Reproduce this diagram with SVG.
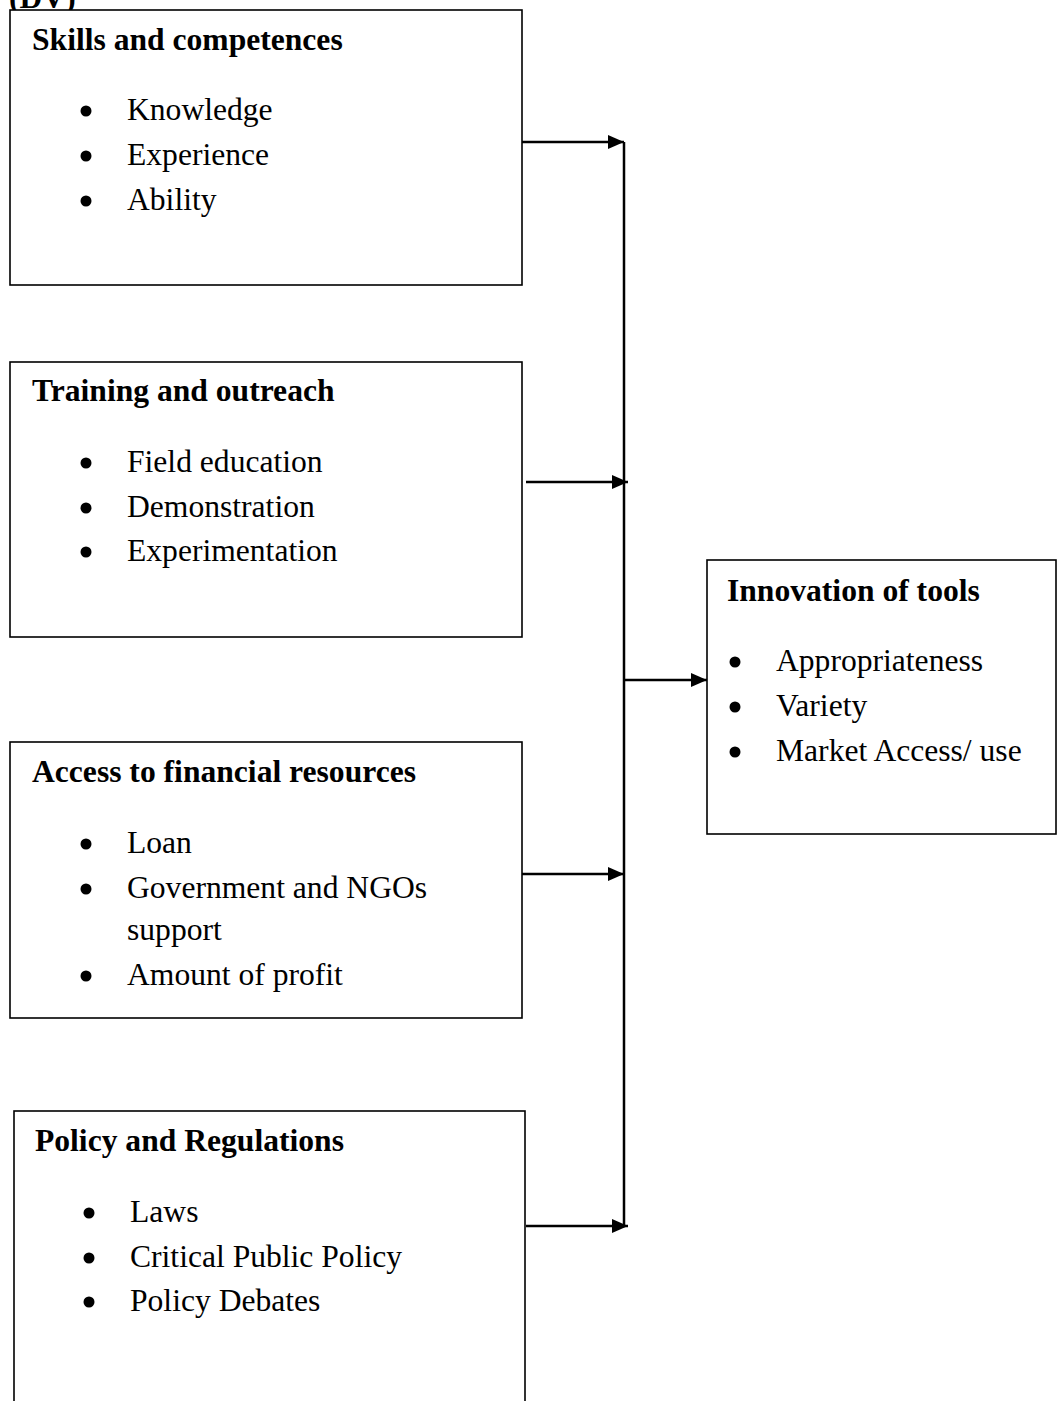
<svg xmlns="http://www.w3.org/2000/svg" width="1057" height="1401" viewBox="0 0 1057 1401">
<style>
.box{fill:#fff;stroke:#000;stroke-width:1.6}
.t{font-family:"Liberation Serif","Times New Roman",serif;font-size:31.6px;fill:#000}
.b{font-weight:bold}
.line{stroke:#000;stroke-width:2.5;fill:none}
.dot{fill:#000}
</style>
<defs>
<marker id="ah" markerWidth="16" markerHeight="14" refX="16" refY="7" orient="auto" markerUnits="userSpaceOnUse">
<path d="M0,0 L16,7 L0,14 z" fill="#000"/>
</marker>
</defs>
<rect width="1057" height="1401" fill="#fff"/>
<text class="t b" x="9" y="8">(DV)</text>
<g id="skills">
<rect class="box" x="10" y="10" width="512" height="275"/>
<text class="t b" x="32" y="50">Skills and competences</text>
<circle class="dot" cx="86" cy="111" r="5.5"/><text class="t" x="127" y="120">Knowledge</text>
<circle class="dot" cx="86" cy="156" r="5.5"/><text class="t" x="127" y="165">Experience</text>
<circle class="dot" cx="86" cy="201" r="5.5"/><text class="t" x="127" y="210">Ability</text>
</g>
<g id="training">
<rect class="box" x="10" y="362" width="512" height="275"/>
<text class="t b" x="32" y="401">Training and outreach</text>
<circle class="dot" cx="86" cy="463" r="5.5"/><text class="t" x="127" y="472">Field education</text>
<circle class="dot" cx="86" cy="508" r="5.5"/><text class="t" x="127" y="517">Demonstration</text>
<circle class="dot" cx="86" cy="552" r="5.5"/><text class="t" x="127" y="561">Experimentation</text>
</g>
<g id="finance">
<rect class="box" x="10" y="742" width="512" height="276"/>
<text class="t b" x="32" y="782">Access to financial resources</text>
<circle class="dot" cx="86" cy="844" r="5.5"/><text class="t" x="127" y="853">Loan</text>
<circle class="dot" cx="86" cy="889" r="5.5"/><text class="t" x="127" y="898">Government and NGOs</text>
<text class="t" x="127" y="940">support</text>
<circle class="dot" cx="86" cy="976" r="5.5"/><text class="t" x="127" y="985">Amount of profit</text>
</g>
<g id="policy">
<rect class="box" x="14" y="1111" width="511" height="310"/>
<text class="t b" x="35" y="1151">Policy and Regulations</text>
<circle class="dot" cx="89" cy="1213" r="5.5"/><text class="t" x="130" y="1222">Laws</text>
<circle class="dot" cx="89" cy="1258" r="5.5"/><text class="t" x="130" y="1267">Critical Public Policy</text>
<circle class="dot" cx="89" cy="1302" r="5.5"/><text class="t" x="130" y="1311">Policy Debates</text>
</g>
<g id="innovation">
<rect class="box" x="707" y="560" width="349" height="274"/>
<text class="t b" x="727" y="601">Innovation of tools</text>
<circle class="dot" cx="735" cy="662" r="5.5"/><text class="t" x="776" y="671">Appropriateness</text>
<circle class="dot" cx="735" cy="707" r="5.5"/><text class="t" x="776" y="716">Variety</text>
<circle class="dot" cx="735" cy="752" r="5.5"/><text class="t" x="776" y="761">Market Access/ use</text>
</g>
<g id="connectors">
<line class="line" x1="624" y1="142" x2="624" y2="1226"/>
<line class="line" x1="522" y1="142" x2="624" y2="142" marker-end="url(#ah)"/>
<line class="line" x1="526" y1="482" x2="628" y2="482" marker-end="url(#ah)"/>
<line class="line" x1="522" y1="874" x2="624" y2="874" marker-end="url(#ah)"/>
<line class="line" x1="526" y1="1226" x2="628" y2="1226" marker-end="url(#ah)"/>
<line class="line" x1="624" y1="680" x2="707" y2="680" marker-end="url(#ah)"/>
</g>
</svg>
